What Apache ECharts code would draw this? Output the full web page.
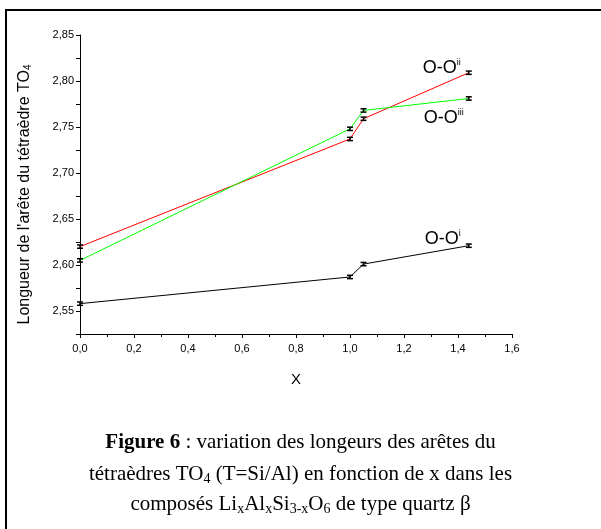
<!DOCTYPE html>
<html>
<head>
<meta charset="utf-8">
<script src="https://cdn.jsdelivr.net/npm/echarts@6/dist/echarts.min.js"></script>
<style>
  html, body { margin: 0; padding: 0; background: #fff; }
  #chart { width: 601px; height: 529px; }
</style>
</head>
<body>
<div id="chart"></div>
<script>
// x values (composition) and measured edge lengths
var xValues = [0, 1.0, 1.05, 1.44];
var ooI = [2.558, 2.587, 2.601, 2.621];
var ooII = [2.620, 2.737, 2.759, 2.809];
var ooIII = [2.605, 2.748, 2.768, 2.781];
var errI = [0.0018, 0.0018, 0.0018, 0.0018];
var errII = [0.0018, 0.0018, 0.0018, 0.0018];
var errIII = [0.0018, 0.0018, 0.0018, 0.0018];
var xTicks = ['0,0', '0,2', '0,4', '0,6', '0,8', '1,0', '1,2', '1,4', '1,6'];
var yTicks = ['2,55', '2,60', '2,65', '2,70', '2,75', '2,80', '2,85'];

function pairs(ys) {
    return xValues.map(function (x, i) { return [x, ys[i]]; });
}
function errData(ys, es) {
    return xValues.map(function (x, i) { return [x, ys[i], es[i]]; });
}

// error bars drawn as "I" shapes
function renderErr(params, api) {
    var x = api.value(0), y = api.value(1), e = api.value(2);
    var top = api.coord([x, y + e]);
    var bot = api.coord([x, y - e]);
    var w = 3;
    var st = { stroke: '#000', lineWidth: 1.5 };
    return {
        type: 'group',
        children: [
            { type: 'line', shape: { x1: top[0], y1: top[1], x2: bot[0], y2: bot[1] }, style: st },
            { type: 'line', shape: { x1: top[0] - w, y1: top[1], x2: top[0] + w, y2: top[1] }, style: st },
            { type: 'line', shape: { x1: bot[0] - w, y1: bot[1], x2: bot[0] + w, y2: bot[1] }, style: st }
        ]
    };
}

var labelRich = {
    b: { fontFamily: 'Liberation Sans', fontSize: 18, color: '#000' },
    s: { fontFamily: 'Liberation Sans', fontSize: 9, color: '#000', padding: [0, 0, 11, 0] }
};

// label only on the last point of a series
function lastLabel(data, text, offset) {
    return data.map(function (d, i) {
        if (i < data.length - 1) return d;
        return {
            value: d,
            label: {
                show: true,
                position: 'left',
                distance: 0,
                offset: offset,
                formatter: text,
                rich: labelRich
            }
        };
    });
}

var myChart = echarts.init(document.getElementById('chart'));

var option = {
    backgroundColor: '#fff',
    animation: false,
    grid: { left: 80, right: 89, top: 35, bottom: 195 },
    xAxis: {
        type: 'value',
        min: 0,
        max: 1.6,
        interval: 0.2,
        name: 'X',
        nameLocation: 'middle',
        nameGap: 38,
        nameTextStyle: { fontFamily: 'Liberation Sans', fontSize: 15, color: '#000' },
        axisLine: { lineStyle: { color: '#000', width: 1 } },
        axisTick: { inside: false, length: 4, lineStyle: { color: '#000' } },
        minorTick: { show: true, splitNumber: 2, length: 3, lineStyle: { color: '#000' } },
        splitLine: { show: false },
        axisLabel: {
            fontFamily: 'Liberation Sans', fontSize: 11, color: '#000', margin: 9,
            formatter: function (v) { return xTicks[Math.round(v / 0.2)]; }
        }
    },
    yAxis: {
        type: 'value',
        min: 2.525,
        max: 2.85,
        interval: 0.025,
        name: '{a|Longueur de l\'arête du tétraèdre TO}{sub|4}',
        nameLocation: 'middle',
        nameRotate: 90,
        nameGap: 47,
        nameTextStyle: {
            rich: {
                a: { fontFamily: 'Liberation Sans', fontSize: 16, color: '#000' },
                sub: { fontFamily: 'Liberation Sans', fontSize: 10, color: '#000', padding: [7, 0, 0, 0] }
            },
            padding: [0, 20, 0, 0]
        },
        axisLine: { show: true, lineStyle: { color: '#000', width: 1 } },
        axisTick: { show: true, inside: false, length: 4, lineStyle: { color: '#000' } },
        splitLine: { show: false },
        axisLabel: {
            fontFamily: 'Liberation Sans', fontSize: 11, color: '#000', margin: 6,
            formatter: function (v) {
                var k = Math.round((v - 2.55) / 0.05 * 1000) / 1000;
                if (Math.abs(k - Math.round(k)) > 0.01 || k < 0) return '';
                return yTicks[Math.round(k)] || '';
            }
        }
    },
    series: [
        {
            name: 'O-Oi', type: 'line', data: lastLabel(pairs(ooI), '{b|O-O}{s|i}', [-8, -7]),
            symbol: 'circle', symbolSize: 0, showSymbol: true,
            lineStyle: { color: '#000', width: 1 }, itemStyle: { color: '#000' }, z: 2
        },
        {
            name: 'O-Oii', type: 'line', data: lastLabel(pairs(ooII), '{b|O-O}{s|ii}', [-8, -5]),
            symbol: 'circle', symbolSize: 0, showSymbol: true,
            lineStyle: { color: '#ff0000', width: 1 }, itemStyle: { color: '#ff0000' }, z: 2
        },
        {
            name: 'O-Oiii', type: 'line', data: lastLabel(pairs(ooIII), '{b|O-O}{s|iii}', [-5, 20]),
            symbol: 'circle', symbolSize: 0, showSymbol: true,
            lineStyle: { color: '#00ff00', width: 1 }, itemStyle: { color: '#00ff00' }, z: 2
        },
        { type: 'custom', renderItem: renderErr, data: errData(ooI, errI), z: 3 },
        { type: 'custom', renderItem: renderErr, data: errData(ooII, errII), z: 3 },
        { type: 'custom', renderItem: renderErr, data: errData(ooIII, errIII), z: 3 }
    ],
    graphic: [
        {
            type: 'rect', shape: { x: 6, y: 10, width: 700, height: 700 },
            style: { fill: 'none', stroke: '#000', lineWidth: 2 }, silent: true
        },
        {
            type: 'text', left: 'center', top: 432,
            style: {
                text: '{bold|Figure 6} : variation des longeurs des arêtes du',
                font: '21px "Liberation Serif"', fill: '#000',
                rich: {
                    bold: { fontFamily: 'Liberation Serif', fontSize: 21, fontWeight: 'bold', fill: '#000' }
                }
            }
        },
        {
            type: 'text', left: 'center', top: 464,
            style: {
                text: 'tétraèdres TO{sub|4} (T=Si/Al) en fonction de x dans les',
                font: '21px "Liberation Serif"', fill: '#000',
                rich: {
                    sub: { fontFamily: 'Liberation Serif', fontSize: 14, fill: '#000', padding: [10, 0, 0, 0] }
                }
            }
        },
        {
            type: 'text', left: 'center', top: 494,
            style: {
                text: 'composés Li{sub|x}Al{sub|x}Si{sub|3-x}O{sub|6} de type quartz β',
                font: '21px "Liberation Serif"', fill: '#000',
                rich: {
                    sub: { fontFamily: 'Liberation Serif', fontSize: 14, fill: '#000', padding: [10, 0, 0, 0] }
                }
            }
        }
    ]
};

myChart.setOption(option);
</script>
</body>
</html>
